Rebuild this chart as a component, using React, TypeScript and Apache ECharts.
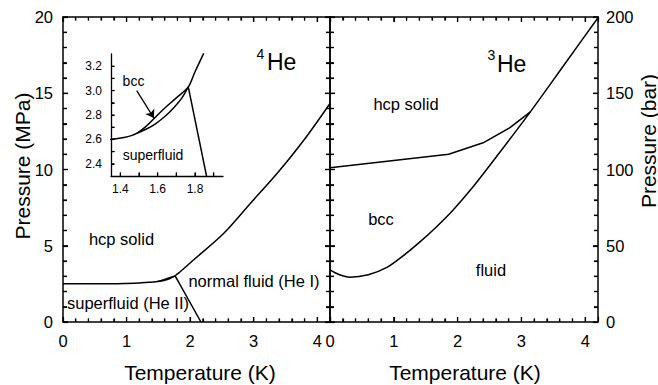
import React, { useEffect, useRef } from "react";
import * as echarts from "echarts";

// 4He melting curve (T in K, P in MPa)
const he4MeltT = [0, 0.4, 0.8, 1.0, 1.2, 1.35, 1.42, 1.488, 1.54, 1.586, 1.64, 1.7, 1.764, 1.8, 1.843, 2.057, 2.53, 2.95, 3.37, 3.79, 4.2];
const he4MeltP = [2.51, 2.51, 2.51, 2.53, 2.56, 2.6, 2.615, 2.65, 2.71, 2.78, 2.86, 2.94, 3.03, 3.155, 3.295, 4.08, 5.82, 7.79, 9.75, 11.93, 14.33];
// 4He bcc / hcp boundary
const he4BccT = [1.488, 1.54, 1.586, 1.64, 1.684, 1.73, 1.764];
const he4BccP = [2.65, 2.685, 2.726, 2.79, 2.855, 2.94, 3.03];
// 4He lambda line
const he4LambdaT = [1.764, 2.17];
const he4LambdaP = [3.03, 0];
// arrow pointing at the bcc sliver (inset)
const bccArrowT = [1.488, 1.58];
const bccArrowP = [3.0, 2.775];

// 3He melting curve (T in K, P in bar)
const he3MeltT = [0, 0.15, 0.31, 0.6, 0.9, 1.15, 1.41, 1.67, 1.93, 2.2, 2.61, 3.14, 3.71, 4.2];
const he3MeltP = [34.2, 31, 29.4, 31, 36, 43.5, 52.5, 62.5, 73.5, 86.5, 108.5, 137.8, 171, 199.5];
// 3He hcp / bcc boundary
const he3HcpT = [0, 1.86, 2.4, 2.82, 3.14];
const he3HcpP = [101.2, 110, 117.5, 127.4, 137.8];

// tick labels
const tempTicks = [0, 1, 2, 3, 4];
const mpaTicks = [0, 5, 10, 15, 20];
const barTicks = [0, 50, 100, 150, 200];
const insetTempLabels = [1.4, 1.6, 1.8];
const insetTempTicks = [1.4, 1.5, 1.6, 1.7, 1.8, 1.9];
const insetPressLabels = [2.4, 2.6, 2.8, 3.0, 3.2];
const insetPressTicks = [2.4, 2.5, 2.6, 2.7, 2.8, 2.9, 3.0, 3.1, 3.2];

const FONT = "'Liberation Sans', Arial, Helvetica, sans-serif";
const INK = "#000";

const zip = (xs: number[], ys: number[]) => xs.map((x, i) => [x, ys[i]]);

// evenly spaced tick positions between two values
const steps = (from: number, to: number, step: number) => {
  const out: number[] = [];
  const n = Math.round((to - from) / step);
  for (let i = 0; i <= n; i++) out.push(+(from + i * step).toFixed(4));
  return out;
};

const withLen = (vals: number[], major: number[], longLen: number, shortLen: number): [number, number][] =>
  vals.map((v) => [v, major.some((m) => Math.abs(m - v) < 1e-6) ? longLen : shortLen]);

const tempTickMarks = withLen(steps(0, 4, 0.2), tempTicks, 5, 3.5);
const mpaTickMarks = withLen(steps(0, 20, 1), mpaTicks, 5, 4);
const barTickMarks = withLen(steps(0, 200, 10), barTicks, 5, 4);
const insetTMarks = withLen(insetTempTicks, [], 3.5, 3.5);
const insetPMarks = withLen(insetPressTicks, [], 3.5, 3.5);

const lineStyle = { color: INK, width: 1.5 };
const axisLine = () => ({ show: true, onZero: false, lineStyle: { color: INK, width: 1.5 } });

function mainX(gridIndex: number, position: "top" | "bottom", labels: boolean) {
  return {
    type: "value",
    gridIndex,
    position,
    min: 0,
    max: 4.2,
    interval: 1,
    axisLine: axisLine(),
    axisTick: { show: true, inside: true, length: 5, lineStyle: { color: INK, width: 1.2 } },
    minorTick: { show: true, splitNumber: 5, length: 3.5, lineStyle: { color: INK, width: 1.2 } },
    axisLabel: {
      show: labels,
      customValues: tempTicks,
      color: INK,
      fontSize: 16.5,
      fontFamily: FONT,
      margin: 10,
    },
    splitLine: { show: false },
  };
}

function mainY(gridIndex: number, position: "left" | "right", max: number, interval: number, labels: boolean) {
  return {
    type: "value",
    gridIndex,
    position,
    min: 0,
    max,
    interval,
    axisLine: axisLine(),
    axisTick: { show: true, inside: true, length: 5, lineStyle: { color: INK, width: 1.2 } },
    minorTick: { show: true, splitNumber: 5, length: 4, lineStyle: { color: INK, width: 1.2 } },
    axisLabel: {
      show: labels,
      color: INK,
      fontSize: 16.5,
      fontFamily: FONT,
      margin: position === "left" ? 10 : 8,
    },
    splitLine: { show: false },
  };
}

function txt(text: string, x: number, y: number, fontSize: number, align = "center", rotation = 0) {
  return {
    type: "text",
    x,
    y,
    rotation,
    z: 50,
    style: {
      text,
      fill: INK,
      fontSize,
      fontFamily: FONT,
      align,
      verticalAlign: "middle",
    },
  };
}

type Sides = { bottom?: boolean; top?: boolean; left?: boolean; right?: boolean };

const plain = { showSymbol: false, symbol: "none", lineStyle };

export default function App() {
  const ref = useRef<HTMLDivElement>(null);

  useEffect(() => {
    if (!ref.current) return;
    const chart = echarts.init(ref.current, undefined, { renderer: "svg" });

    const leftPanel = { left: 63, top: 17, width: 267, height: 305 };
    const rightPanel = { left: 330, top: 17, width: 268, height: 305 };

    const labels = [
      // axis titles
      txt("Temperature (K)", 200, 372, 21),
      txt("Temperature (K)", 465, 372, 21),
      txt("Pressure (MPa)", 22, 166, 21, "center", Math.PI / 2),
      txt("Pressure (bar)", 648, 141, 21, "center", Math.PI / 2),
      // 4He panel
      txt("He", 267, 62, 23, "left"),
      txt("4", 260.5, 53.5, 14),
      txt("hcp solid", 121.5, 238.5, 16.5),
      txt("superfluid (He II)", 128, 302.5, 16.5),
      txt("normal fluid (He I)", 254, 281, 16.5),
      txt("bcc", 133.5, 80.5, 14),
      txt("superfluid", 153, 155, 14),
      // 3He panel
      txt("He", 497, 63.5, 23, "left"),
      txt("3", 491.5, 55, 14),
      txt("hcp solid", 406, 104, 16.5),
      txt("bcc", 381, 219, 16.5),
      txt("fluid", 491, 269.5, 16.5),
    ];

    const option = {
      animation: false,
      grid: [
        leftPanel,
        { ...leftPanel },
        rightPanel,
        { ...rightPanel },
        { left: 111, top: 54, width: 112, height: 122 },
      ],
      xAxis: [
        mainX(0, "bottom", true),
        mainX(1, "top", false),
        mainX(2, "bottom", true),
        mainX(3, "top", false),
        {
          type: "value",
          gridIndex: 4,
          position: "bottom",
          min: 1.35,
          max: 1.95,
          axisLine: { show: true, onZero: false, lineStyle: { color: INK, width: 1.3 } },
          axisTick: { show: true, inside: true, length: 3.5, lineStyle: { color: INK, width: 1.1 }, customValues: insetTempTicks },
          axisLabel: {
            show: true,
            customValues: insetTempLabels,
            formatter: (v: number) => v.toFixed(1),
            color: INK,
            fontSize: 12,
            fontFamily: FONT,
            margin: 7,
          },
          splitLine: { show: false },
        },
      ],
      yAxis: [
        mainY(0, "left", 20, 5, true),
        mainY(1, "right", 20, 5, false),
        mainY(2, "right", 200, 50, true),
        mainY(3, "left", 200, 50, false),
        {
          type: "value",
          gridIndex: 4,
          position: "left",
          min: 2.3,
          max: 3.3,
          axisLine: { show: true, onZero: false, lineStyle: { color: INK, width: 1.3 } },
          axisTick: { show: true, inside: true, length: 3.5, lineStyle: { color: INK, width: 1.1 }, customValues: insetPressTicks },
          axisLabel: {
            show: true,
            customValues: insetPressLabels,
            formatter: (v: number) => v.toFixed(1),
            color: INK,
            fontSize: 12,
            fontFamily: FONT,
            margin: 9,
          },
          splitLine: { show: false },
        },
      ],
      series: [
        // left panel: 4He
        { type: "line", xAxisIndex: 0, yAxisIndex: 0, data: zip(he4MeltT, he4MeltP), smooth: 0.3, ...plain },
        { type: "line", xAxisIndex: 0, yAxisIndex: 0, data: zip(he4BccT, he4BccP), smooth: 0.3, ...plain },
        { type: "line", xAxisIndex: 0, yAxisIndex: 0, data: zip(he4LambdaT, he4LambdaP), ...plain },
        // right panel: 3He
        { type: "line", xAxisIndex: 2, yAxisIndex: 2, data: zip(he3MeltT, he3MeltP), smooth: 0.3, ...plain },
        { type: "line", xAxisIndex: 2, yAxisIndex: 2, data: zip(he3HcpT, he3HcpP), ...plain },
        // inset: bcc sliver of 4He
        { type: "line", xAxisIndex: 4, yAxisIndex: 4, data: zip(he4MeltT, he4MeltP), smooth: 0.3, clip: true, ...plain },
        { type: "line", xAxisIndex: 4, yAxisIndex: 4, data: zip(he4BccT, he4BccP), smooth: 0.3, clip: true, ...plain },
        {
          type: "line",
          xAxisIndex: 4,
          yAxisIndex: 4,
          data: zip(he4LambdaT, he4LambdaP),
          clip: true,
          ...plain,
          // arrow labelling the bcc sliver
          markLine: {
            silent: true,
            symbol: ["none", "arrow"],
            symbolSize: 8,
            label: { show: false },
            lineStyle: { color: INK, width: 1.3, type: "solid" },
            data: [
              [
                { coord: [bccArrowT[0], bccArrowP[0]] },
                { coord: [bccArrowT[1], bccArrowP[1]] },
              ],
            ],
          },
        },
      ],
      graphic: labels,
    };

    chart.setOption(option as any);

    // inward tick marks on every frame edge, placed through each grid's scales
    const ticks: any[] = [];
    const W = 1.2;
    const addTicks = (
      xAxisIndex: number,
      yAxisIndex: number,
      xRange: [number, number],
      yRange: [number, number],
      xMarks: [number, number][],
      yMarks: [number, number][],
      sides: Sides,
    ) => {
      const p = (x: number, y: number) =>
        chart.convertToPixel({ xAxisIndex, yAxisIndex } as any, [x, y]) as unknown as number[];
      const bar = (x: number, y: number, w: number, h: number) => {
        if ([x, y, w, h].every((n) => Number.isFinite(n))) {
          ticks.push({ type: "rect", silent: true, z: 40, shape: { x, y, width: w, height: h }, style: { fill: INK } });
        }
      };
      xMarks.forEach(([v, len]) => {
        if (sides.bottom) {
          const a = p(v, yRange[0]);
          if (a) bar(a[0] - W / 2, a[1] - len, W, len);
        }
        if (sides.top) {
          const b = p(v, yRange[1]);
          if (b) bar(b[0] - W / 2, b[1], W, len);
        }
      });
      yMarks.forEach(([v, len]) => {
        if (sides.left) {
          const a = p(xRange[0], v);
          if (a) bar(a[0], a[1] - W / 2, len, W);
        }
        if (sides.right) {
          const b = p(xRange[1], v);
          if (b) bar(b[0] - len, b[1] - W / 2, len, W);
        }
      });
    };

    const all = { bottom: true, top: true, left: true, right: true };
    addTicks(0, 0, [0, 4.2], [0, 20], tempTickMarks, mpaTickMarks, all);
    addTicks(2, 2, [0, 4.2], [0, 200], tempTickMarks, barTickMarks, all);
    addTicks(4, 4, [1.35, 1.95], [2.3, 3.3], insetTMarks, insetPMarks, { bottom: true, left: true });

    chart.setOption({ graphic: [...labels, ...ticks] } as any);

    return () => chart.dispose();
  }, []);

  return (
    <div
      ref={ref}
      style={{ position: "fixed", left: 0, top: 0, width: 658, height: 385, background: "#fff" }}
    />
  );
}
